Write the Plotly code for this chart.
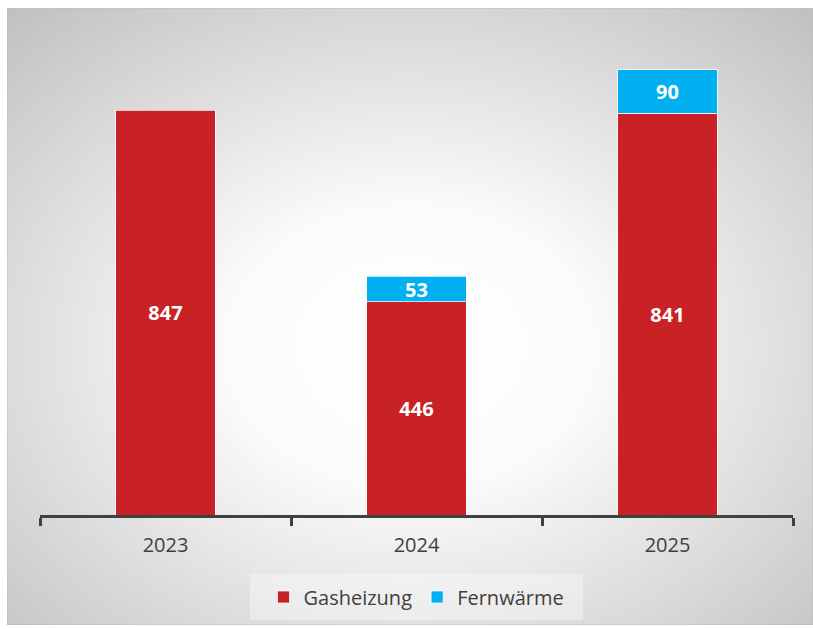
import base64
import plotly.graph_objects as go

years = ["2023", "2024", "2025"]
gasheizung = [847, 446, 841]
fernwaerme = [None, 53, 90]

RED = "#C82226"
BLUE = "#00B0F0"
FONT = "Open Sans"

# radial grey-to-white background, like the original chart area
svg = """<svg xmlns='http://www.w3.org/2000/svg' width='806' height='617' preserveAspectRatio='none'>
<defs><radialGradient id='g' cx='50%' cy='55%' r='75%'>
<stop offset='0%' stop-color='#ffffff'/><stop offset='30%' stop-color='#fbfbfb'/>
<stop offset='100%' stop-color='#bfbfbf'/></radialGradient></defs>
<rect width='806' height='617' fill='url(#g)' stroke='#bdbdbd' stroke-width='1'/></svg>"""
bg_src = "data:image/svg+xml;base64," + base64.b64encode(svg.encode()).decode()

W, H = 813, 629
ml, mr, mt, mb = 40, 20, 30, 114
pw, ph = W - ml - mr, H - mt - mb


def px_x(v):
    return (v - ml) / pw


def px_y(v):
    return (H - mb - v) / ph


label_font = dict(family=FONT, size=20, color="white", weight="bold")

fig = go.Figure()
fig.add_trace(go.Bar(
    x=years, y=gasheizung, name="Gasheizung",
    marker=dict(color=RED, line=dict(color="rgba(255,255,255,0.7)", width=1)),
    text=gasheizung, textposition="inside", insidetextanchor="middle",
    textangle=0, constraintext="none", textfont=label_font,
))
fig.add_trace(go.Bar(
    x=years, y=fernwaerme, name="Fernwärme",
    marker=dict(color=BLUE, line=dict(color="rgba(255,255,255,0.7)", width=1)),
    text=fernwaerme, textposition="inside", insidetextanchor="middle",
    textangle=0, constraintext="none", textfont=label_font,
))

fig.add_layout_image(
    source=bg_src, xref="paper", yref="paper",
    x=px_x(7), y=px_y(8), sizex=px_x(813) - px_x(7), sizey=px_y(8) - px_y(625),
    xanchor="left", yanchor="top", sizing="stretch", layer="below",
)
# lighter box behind the legend
fig.add_shape(
    type="rect", xref="paper", yref="paper",
    x0=px_x(250), x1=px_x(583), y0=px_y(620), y1=px_y(574),
    fillcolor="rgba(255,255,255,0.35)", line=dict(width=0), layer="below",
)

fig.update_layout(
    width=W, height=H,
    margin=dict(l=ml, r=mr, t=mt, b=mb),
    paper_bgcolor="white", plot_bgcolor="rgba(0,0,0,0)",
    barmode="stack", bargap=0.605,
    font=dict(family=FONT, size=20, color="#404040"),
    showlegend=True,
    legend=dict(orientation="h", x=0.5, xanchor="center", y=px_y(597), yanchor="middle",
                bgcolor="rgba(0,0,0,0)", font=dict(size=20, color="#404040"),
                itemwidth=30, traceorder="normal"),
    xaxis=dict(range=[-0.5, 2.5], showline=True, linecolor="#404040", linewidth=3,
               ticks="outside", tickson="boundaries", ticklen=8, tickwidth=3,
               tickcolor="#404040", showgrid=False, zeroline=False,
               ticklabelstandoff=10,
               tickfont=dict(size=20, color="#404040")),
    yaxis=dict(range=[0, ph / 0.478], visible=False, showgrid=False, zeroline=False),
)

fig.write_html("out.html", config={"displayModeBar": False},
               post_script="document.body.style.margin='0';")
